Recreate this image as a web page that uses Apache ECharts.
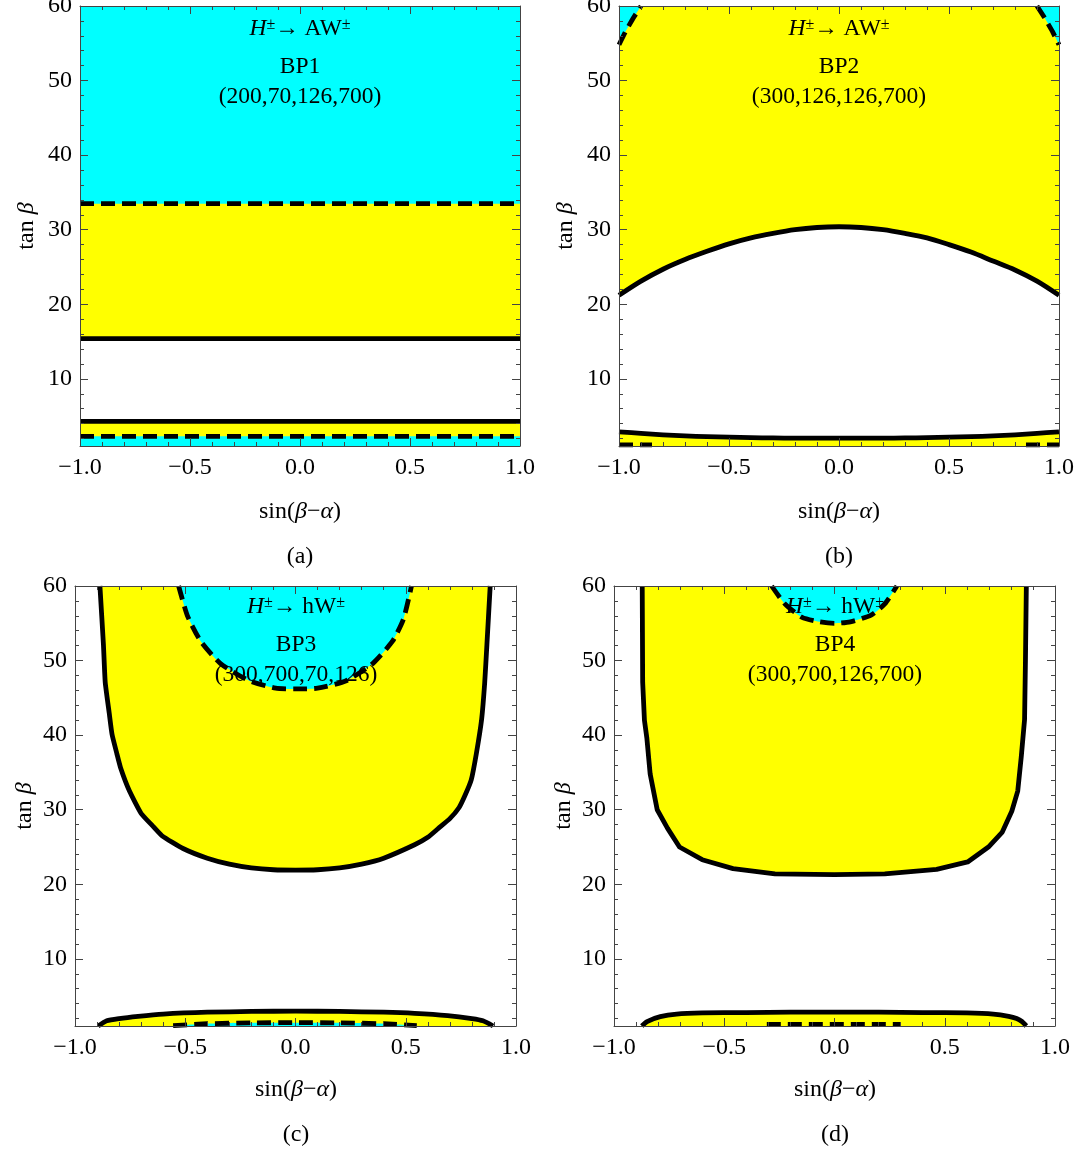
<!DOCTYPE html>
<html>
<head>
<meta charset="utf-8">
<script src="https://cdn.jsdelivr.net/npm/echarts@6.0.0/dist/echarts.min.js"></script>
<style>
html,body{margin:0;padding:0;background:#ffffff;}
#chart{width:1080px;height:1156px;}
</style>
</head>
<body>
<div id="chart"></div>
<script>
// ---------------- data ----------------
const xRange = [-1, 1];
const yRange = [1, 60];
const xMajorTicks = [-1, -0.5, 0, 0.5, 1];
const xMinorTicks = [-0.9,-0.8,-0.7,-0.6,-0.4,-0.3,-0.2,-0.1,0.1,0.2,0.3,0.4,0.6,0.7,0.8,0.9];
const yMajorTicks = [10, 20, 30, 40, 50, 60];
const yMinorTicks = [2,4,6,8,12,14,16,18,22,24,26,28,32,34,36,38,42,44,46,48,52,54,56,58];

// Panel (a) BP1
const aX = [-1, 1];
const aSolidHigh = [15.4, 15.4];
const aDashHigh = [33.5, 33.5];
const aSolidLow = [4.3, 4.3];
const aDashLow = [2.3, 2.3];

// Panel (b) BP2
const bX = [-1,-0.9,-0.8,-0.7,-0.6,-0.5,-0.4,-0.3,-0.2,-0.1,0,0.1,0.2,0.3,0.4,0.5,0.6,0.7,0.8,0.9,1];
const bUpper = [21.2,23.1,24.7,26.0,27.1,28.1,28.9,29.5,30.0,30.3,30.4,30.3,30.0,29.5,28.9,28.0,27.0,25.8,24.6,23.1,21.2];
const bLower = [2.9,2.7,2.5,2.35,2.25,2.18,2.12,2.08,2.06,2.05,2.05,2.05,2.06,2.08,2.12,2.18,2.25,2.35,2.5,2.7,2.9];
const bCornerLX = [-1,-0.97,-0.935,-0.9];
const bCornerLY = [54.8,56.6,58.4,60];
const bCornerRX = [0.9,0.935,0.97,1];
const bCornerRY = [60,58.4,56.6,54.8];
const bEdgeLX = [-1,-0.85];
const bEdgeLY = [1.15,1.15];
const bEdgeRX = [0.85,1];
const bEdgeRY = [1.15,1.15];

// Panel (c) BP3
const cUX = [-0.887,-0.871,-0.863,-0.845,-0.832,-0.81,-0.793,-0.753,-0.70,-0.65,-0.605,-0.51,-0.40,-0.30,-0.20,-0.10,0,0.10,0.20,0.30,0.40,0.54,0.60,0.648,0.70,0.742,0.77,0.797,0.82,0.844,0.858,0.868,0.883];
const cUY = [60,52.1,47.1,43,40.1,37.5,35.6,32.5,29.5,27.9,26.5,24.8,23.5,22.7,22.2,21.95,21.9,21.95,22.2,22.7,23.5,25.3,26.3,27.5,28.8,30.3,32,34.0,37.5,42.1,47,52.1,60];
const cArcX = [-0.53,-0.49,-0.43,-0.34,-0.21,-0.09,0,0.10,0.23,0.35,0.44,0.49,0.526];
const cArcY = [60,56,52.6,49.6,47.3,46.3,46.2,46.3,47.3,49.6,52.6,55.6,60];
const cLowX = [-0.895,-0.856,-0.80,-0.714,-0.60,-0.40,-0.20,0,0.20,0.40,0.54,0.69,0.80,0.85,0.896];
const cLowY = [1,1.7,2.0,2.3,2.6,2.85,2.95,3.0,2.95,2.85,2.7,2.4,2.0,1.7,1];
const cDashX = [-0.555,-0.4,-0.2,0,0.2,0.4,0.55];
const cDashY = [1.05,1.3,1.42,1.45,1.42,1.3,1.05];

// Panel (d) BP4
const dUX = [-0.872,-0.870,-0.862,-0.851,-0.836,-0.804,-0.757,-0.703,-0.60,-0.46,-0.27,0,0.228,0.463,0.604,0.698,0.761,0.804,0.831,0.847,0.862,0.866,0.870];
const dUY = [60,47.1,42,39.6,34.8,30.0,27.5,25.0,23.3,22.1,21.4,21.3,21.4,22.0,23.0,25.0,27.0,29.8,32.5,37.1,42.1,50,60];
const dArcX = [-0.285,-0.225,-0.147,-0.069,0,0.072,0.166,0.228,0.283];
const dArcY = [60,57.6,55.8,55.2,55.0,55.2,56.1,57.6,60];
const dLowX = [-0.874,-0.85,-0.79,-0.716,-0.6,-0.4,-0.2,0,0.2,0.4,0.6,0.72,0.79,0.826,0.85,0.87];
const dLowY = [1,1.6,2.25,2.6,2.75,2.8,2.85,2.85,2.85,2.8,2.75,2.6,2.3,2.0,1.6,1];
const dDashX = [-0.307,0.297];
const dDashY = [1.2,1.2];

// text
const panelLetters = ['(a)','(b)','(c)','(d)'];
const bpNames = ['BP1','BP2','BP3','BP4'];
const bpTuples = ['(200,70,126,700)','(300,126,126,700)','(300,700,70,126)','(300,700,126,700)'];
const decayProducts = ['AW','AW','hW','hW'];

// ---------------- styling / layout ----------------
const FONT = '"Liberation Serif", "Times New Roman", serif';
const YELLOW = '#ffff00';
const CYAN = '#00ffff';
const FRAME = '#444444';
const LW = 4.8;
const DASH = [14, 7];
const FS = 24;

const grids = [
  {left: 80,  top: 6,   width: 440, height: 440},
  {left: 619, top: 6,   width: 440, height: 440},
  {left: 75,  top: 586, width: 441, height: 440},
  {left: 614, top: 586, width: 441, height: 440}
];

function fmtX(v) {
  const s = Math.abs(v).toFixed(1);
  return (v < -1e-9 ? '\u2212' : '') + s;
}

const xAxes = [], yAxes = [];
const tickLine = {color: FRAME, width: 1};
grids.forEach((g, gi) => {
  ['bottom', 'top'].forEach((pos) => {
    xAxes.push({
      gridIndex: gi, type: 'value', position: pos, min: xRange[0], max: xRange[1],
      z: 10,
      axisLine: {show: true, onZero: false, lineStyle: {color: FRAME, width: 1}},
      axisTick: {show: true, inside: true, length: 8, customValues: xMajorTicks, lineStyle: tickLine},
      splitLine: {show: false},
      axisLabel: {show: pos === 'bottom', customValues: xMajorTicks, margin: 10, fontFamily: FONT, fontSize: FS, color: '#000', formatter: fmtX}
    });
    xAxes.push({
      gridIndex: gi, type: 'value', position: pos, min: xRange[0], max: xRange[1],
      z: 10,
      axisLine: {show: false, onZero: false},
      axisTick: {show: true, inside: true, length: 4, customValues: xMinorTicks, lineStyle: tickLine},
      splitLine: {show: false},
      axisLabel: {show: false, customValues: xMinorTicks}
    });
  });
  ['left', 'right'].forEach((pos) => {
    yAxes.push({
      gridIndex: gi, type: 'value', position: pos, min: yRange[0], max: yRange[1],
      z: 10,
      axisLine: {show: true, onZero: false, lineStyle: {color: FRAME, width: 1}},
      axisTick: {show: true, inside: true, length: 8, customValues: yMajorTicks, lineStyle: tickLine},
      splitLine: {show: false},
      axisLabel: {show: pos === 'left', customValues: yMajorTicks, margin: 8, fontFamily: FONT, fontSize: FS, color: '#000'}
    });
    yAxes.push({
      gridIndex: gi, type: 'value', position: pos, min: yRange[0], max: yRange[1],
      z: 10,
      axisLine: {show: false, onZero: false},
      axisTick: {show: true, inside: true, length: 4, customValues: yMinorTicks, lineStyle: tickLine},
      splitLine: {show: false},
      axisLabel: {show: false, customValues: yMinorTicks}
    });
  });
});

function curve(gi, xs, ys, dashed, fill, origin, smooth) {
  const s = {
    type: 'line', xAxisIndex: 4 * gi, yAxisIndex: 4 * gi,
    data: xs.map((x, k) => [x, ys[k]]),
    showSymbol: false, symbol: 'none', smooth: smooth || false, silent: true, clip: true, z: 2,
    lineStyle: {color: '#000', width: LW, type: dashed ? DASH : 'solid', cap: 'butt', join: 'round'},
    animation: false
  };
  if (fill) s.areaStyle = {color: fill, opacity: 1, origin: origin};
  return s;
}

const series = [
  // (a)
  curve(0, aX, aSolidHigh, false, YELLOW, 'end'),
  curve(0, aX, aDashHigh, true, CYAN, 'end'),
  curve(0, aX, aSolidLow, false, YELLOW, 'start'),
  curve(0, aX, aDashLow, true, CYAN, 'start'),
  // (b)
  curve(1, bX, bUpper, false, YELLOW, 'end', 0.3),
  curve(1, bX, bLower, false, YELLOW, 'start', 0.3),
  curve(1, bCornerLX, bCornerLY, true, CYAN, 'end'),
  curve(1, bCornerRX, bCornerRY, true, CYAN, 'end'),
  curve(1, bEdgeLX, bEdgeLY, true, null),
  curve(1, bEdgeRX, bEdgeRY, true, null),
  // (c)
  curve(2, cUX, cUY, false, YELLOW, 'end', 0.15),
  curve(2, cArcX, cArcY, true, CYAN, 'end', 0.2),
  curve(2, cLowX, cLowY, false, YELLOW, 'start', 0.2),
  curve(2, cDashX, cDashY, true, CYAN, 'start', 0.2),
  // (d)
  curve(3, dUX, dUY, false, YELLOW, 'end'),
  curve(3, dArcX, dArcY, true, CYAN, 'end', 0.2),
  curve(3, dLowX, dLowY, false, YELLOW, 'start', 0.2),
  curve(3, dDashX, dDashY, true, null)
];

// ---------------- texts ----------------
function rs(size, italic) {
  return {fontFamily: FONT, fontSize: size, fontStyle: italic ? 'italic' : 'normal', fill: '#000'};
}
function txt(x, y, text, rich, rot) {
  return {
    type: 'text', x: x, y: y, z: 100, rotation: rot || 0, silent: true,
    style: {
      text: text, align: 'center', verticalAlign: 'middle',
      fontFamily: FONT, fontSize: FS, fill: '#000',
      rich: rich || {}
    }
  };
}
const richMath = {n: rs(FS, false), i: rs(FS, true), s: Object.assign(rs(16, false), {verticalAlign: 'top'})};
const richNote = {n: rs(23.5, false), i: rs(23.5, true), s: Object.assign(rs(16, false), {verticalAlign: 'top'})};

const graphics = [];
const labelPos = [
  {cx: 300, tanX: 27, tanY: 226, sinY: 512, letY: 557, t1: 29, t2: 67, t3: 97},
  {cx: 839, tanX: 566, tanY: 226, sinY: 512, letY: 557, t1: 29, t2: 67, t3: 97},
  {cx: 296, tanX: 25, tanY: 806, sinY: 1090, letY: 1135, t1: 607, t2: 645, t3: 675},
  {cx: 835, tanX: 564, tanY: 806, sinY: 1090, letY: 1135, t1: 607, t2: 645, t3: 675}
];
labelPos.forEach((p, gi) => {
  graphics.push(txt(p.tanX, p.tanY, '{n|tan }{i|\u03b2}', richMath, Math.PI / 2));
  graphics.push(txt(p.cx, p.sinY, '{n|sin(}{i|\u03b2}{n|\u2212}{i|\u03b1}{n|)}', richMath));
  graphics.push(txt(p.cx, p.letY, '{n|' + panelLetters[gi] + '}', richMath));
  graphics.push(txt(p.cx, p.t1, '{i|H}{s|\u00b1}{n|\u2192 ' + decayProducts[gi] + '}{s|\u00b1}', richNote));
  graphics.push(txt(p.cx, p.t2, '{n|' + bpNames[gi] + '}', richNote));
  graphics.push(txt(p.cx, p.t3, '{n|' + bpTuples[gi] + '}', richNote));
});

const chart = echarts.init(document.getElementById('chart'), null, {renderer: 'canvas'});
chart.setOption({
  animation: false,
  backgroundColor: '#ffffff',
  grid: grids.map(g => Object.assign({containLabel: false, outerBoundsMode: 'none'}, g)),
  xAxis: xAxes,
  yAxis: yAxes,
  series: series,
  graphic: graphics
});
</script>
</body>
</html>
